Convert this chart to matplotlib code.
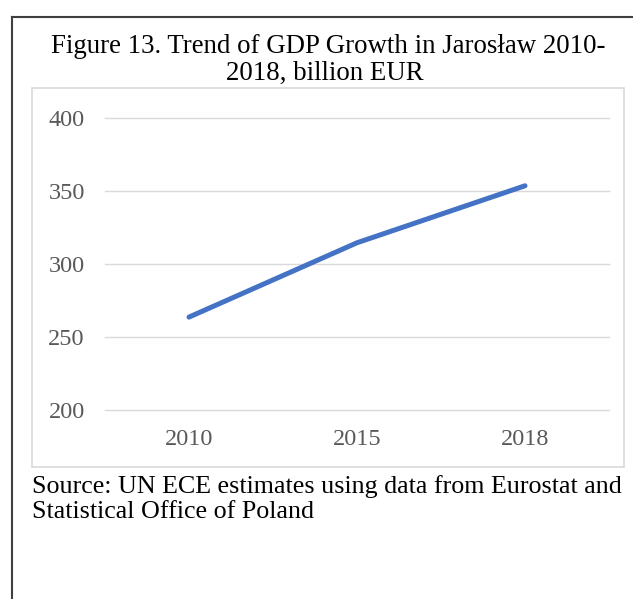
import matplotlib
matplotlib.use('Agg')
import matplotlib.pyplot as plt
from matplotlib.patches import Rectangle
from matplotlib.lines import Line2D

plt.rcParams['font.family'] = ['Liberation Serif', 'DejaVu Serif']

years = ['2010', '2015', '2018']
gdp = [263.4, 314.4, 353.5]
y_ticks = [200, 250, 300, 350, 400]

W, H = 633, 599
fig = plt.figure(figsize=(W / 100, H / 100), dpi=100)


def fx(px):
    return px / W


def fy(py):
    return 1 - py / H


# outer frame (top and left edges)
fig.add_artist(Line2D([fx(12), fx(12)], [fy(17), 0], color='#404040', lw=1.5,
                      transform=fig.transFigure))
fig.add_artist(Line2D([fx(12), 1], [fy(17), fy(17)], color='#404040', lw=1.5,
                      transform=fig.transFigure))

# chart area box
fig.add_artist(Rectangle((fx(32), fy(467)), fx(624) - fx(32), fy(88) - fy(467),
                         fill=False, edgecolor='#d9d9d9', lw=1.2,
                         transform=fig.transFigure))

fig.text(fx(328), fy(53), 'Figure 13. Trend of GDP Growth in Jarosław 2010-',
         ha='center', va='baseline', fontsize=19.4, color='black')
fig.text(fx(325), fy(80), '2018, billion EUR',
         ha='center', va='baseline', fontsize=19.4, color='black')

ax = fig.add_axes([fx(105), fy(409.5), fx(609) - fx(105), fy(118) - fy(409.5)])
x = range(len(years))
ax.plot(x, gdp, color='#4472C4', lw=3.6, solid_capstyle='round',
        solid_joinstyle='round')
ax.set_xlim(-0.5, len(years) - 0.5)
ax.set_ylim(200, 400)
ax.set_yticks(y_ticks)
ax.set_xticks(list(x))
ax.set_xticklabels(years)
ax.grid(axis='y', color='#d9d9d9', lw=1.0)
for gl in ax.get_ygridlines():
    gl.set_clip_on(False)
ax.set_axisbelow(True)
for s in ax.spines.values():
    s.set_visible(False)
ax.tick_params(length=0, labelsize=17.5, labelcolor='#595959')
ax.tick_params(axis='y', pad=14.5)
ax.tick_params(axis='x', pad=14)

fig.text(fx(32), fy(493), 'Source: UN ECE estimates using data from Eurostat and',
         ha='left', va='baseline', fontsize=18.7, color='black')
fig.text(fx(32), fy(518), 'Statistical Office of Poland',
         ha='left', va='baseline', fontsize=18.7, color='black')

fig.savefig('out.png', dpi=100)
